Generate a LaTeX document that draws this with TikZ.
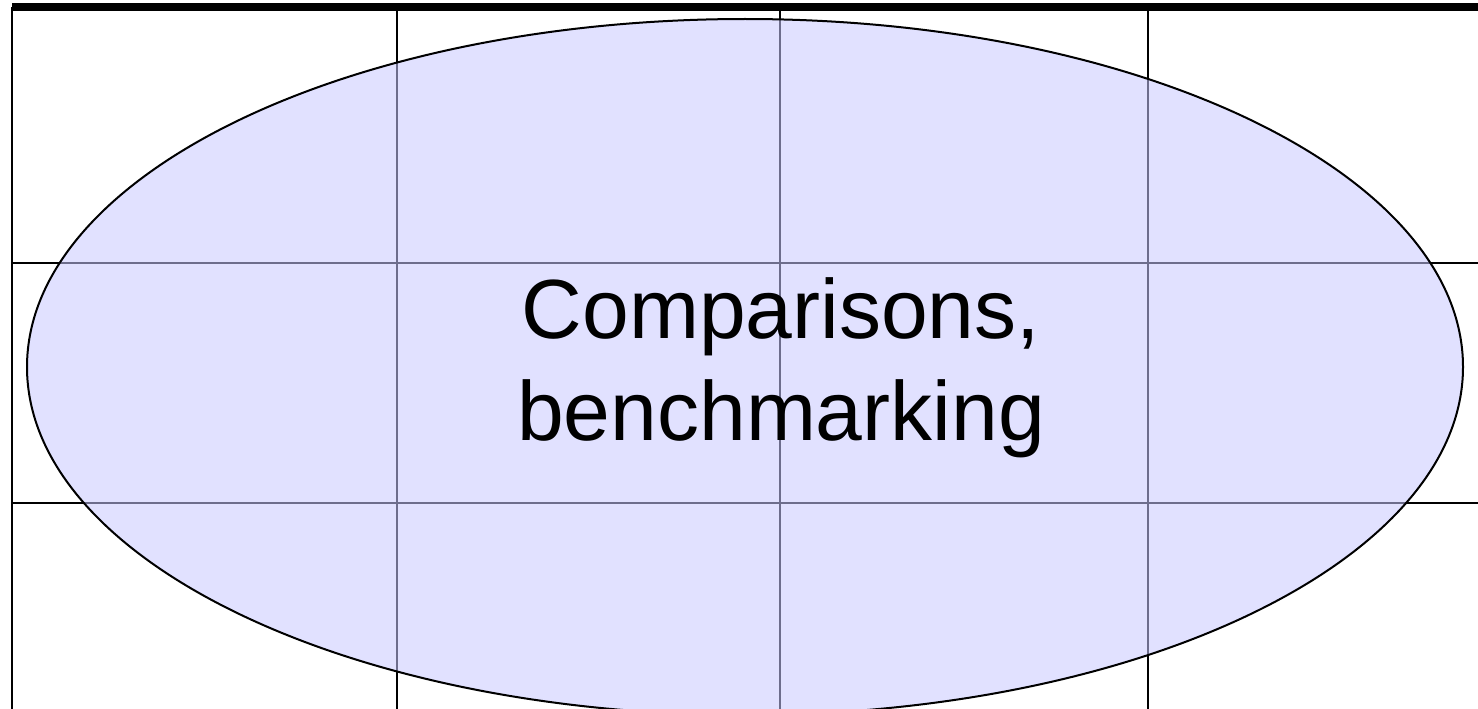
\documentclass[tikz,border=0pt]{standalone}
\usepackage{fontspec}
\setmainfont{Liberation Sans}
\usepackage{tikz}
\usepackage{xcolor}
\definecolor{lavender}{RGB}{200,200,255}

\begin{document}
\begin{tikzpicture}[x=1pt,y=-1pt,
  gridline/.style={line width=2pt,black},
  bubble/.style={line width=2pt,draw=black,fill=lavender,fill opacity=0.55}]
\useasboundingbox(0,0)rectangle(1478,709);
\draw[line width=8pt](12,7)--(1478,7);
\draw[gridline](12,7)--(12,709);
\foreach \x in {397,780,1148}
  \draw[gridline](\x,7)--(\x,709);
\foreach \y in {263,503}
  \draw[gridline](12,\y)--(1478,\y);
\draw[bubble](745,367)ellipse[x radius=718,y radius=348];
\node(label)[anchor=base,align=center,font=\fontsize{84}{102}\selectfont]
  at(781,440){Comparisons,\\benchmarking};
\end{tikzpicture}
\end{document}
